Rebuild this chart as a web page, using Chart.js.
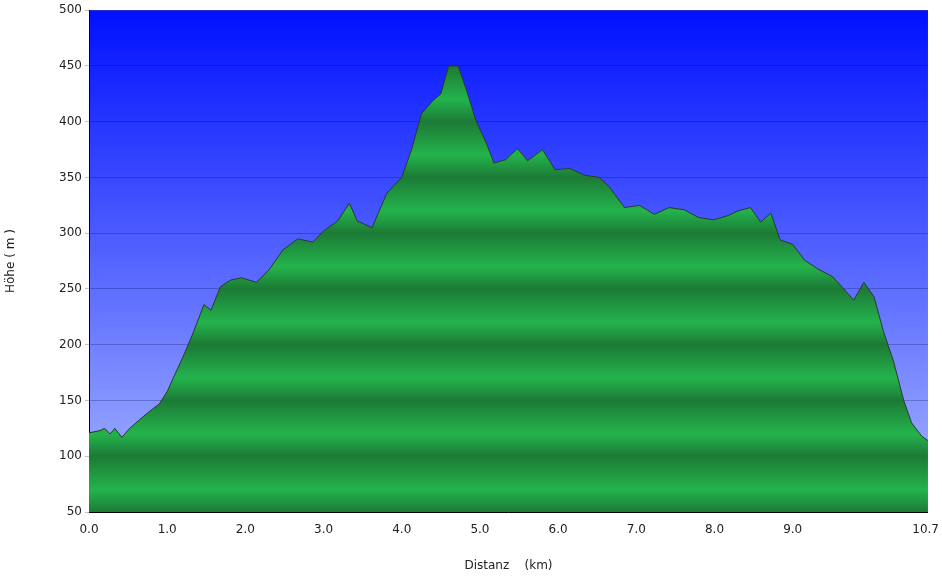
<!DOCTYPE html>
<html><head><meta charset="utf-8">
<script src="https://cdn.jsdelivr.net/npm/chart.js@4"></script>
<style>html,body{margin:0;background:#fff}#wrap{width:942px;height:577px}</style>
</head><body><div id="wrap"><canvas id="c"></canvas></div>
<script>
const distKm = [0,0.14,0.2,0.27,0.33,0.42,0.52,0.65,0.77,0.9,1.0,1.09,1.22,1.34,1.47,1.56,1.68,1.81,1.95,2.14,2.3,2.48,2.67,2.86,3.0,3.18,3.33,3.43,3.62,3.81,4.0,4.13,4.25,4.4,4.5,4.6,4.72,4.82,4.95,5.08,5.18,5.33,5.48,5.61,5.8,5.96,6.15,6.34,6.53,6.66,6.85,7.04,7.23,7.42,7.61,7.8,7.99,8.18,8.3,8.46,8.59,8.72,8.84,9.0,9.15,9.32,9.51,9.63,9.78,9.91,10.04,10.16,10.29,10.42,10.52,10.65,10.73];
const hoehe = [121,123,125,120,125,117,125,133,140,147,158,172,192,212,236,231,252,258,260,256,267,285,295,292,302,311,327,311,305,336,350,376,407,419,425,450,450,430,401,381,363,366,376,365,375,357,358,352,350,341,323,325,317,323,321,314,312,316,320,323,310,318,294,290,276,268,261,252,240,256,243,212,185,150,130,118,114];
const xTicks = [0,1,2,3,4,5,6,7,8,9,10.7];

const bgPlugin = {
  id:'bg',
  beforeDraw(chart){
    const {ctx, chartArea:a} = chart;
    const g = ctx.createLinearGradient(0,a.top,0,a.bottom);
    g.addColorStop(0,'#0010ff'); g.addColorStop(1,'#a9b9ff');
    ctx.save(); ctx.fillStyle = g; ctx.fillRect(a.left,a.top,a.right-a.left,a.bottom-a.top); ctx.restore();
  }
};

function greenFill(c){
  const {chart} = c; const a = chart.chartArea; if(!a) return '#22a044';
  const y = chart.scales.y;
  const g = chart.ctx.createLinearGradient(0,a.top,0,a.bottom);
  for(let v=500; v>=50; v-=50){
    const t = (y.getPixelForValue(v)-a.top)/(a.bottom-a.top);
    g.addColorStop(Math.min(1,Math.max(0,t)),'#1c7a36');
    const m = (y.getPixelForValue(v-30)-a.top)/(a.bottom-a.top);
    if(m<=1) g.addColorStop(m,'#24b34c');
  }
  return g;
}

new Chart(document.getElementById('c'),{
  type:'line',
  data:{ datasets:[{ data: distKm.map((d,i)=>({x:d,y:hoehe[i]})), borderColor:'#2a3a2a', borderWidth:1, backgroundColor:greenFill, fill:'start', pointRadius:0, tension:0 }] },
  plugins:[bgPlugin],
  options:{
    responsive:true, maintainAspectRatio:false, animation:false,
    layout:{ padding:{ top:6, right:3, left:0, bottom:0 } },
    plugins:{ legend:{display:false}, tooltip:{enabled:false} },
    scales:{
      x:{ type:'linear', min:0, max:10.73,
        afterBuildTicks(s){ s.ticks = xTicks.map(v=>({value:v})); },
        afterFit(s){ s.height = 65; },
        ticks:{ callback:v=>v.toFixed(1), color:'#222', font:{family:'DejaVu Sans',size:12}, maxRotation:0, autoSkip:false },
        grid:{ display:false, drawTicks:true }, border:{color:'#000'},
        title:{ display:true, text:'Distanz    (km)', color:'#222', font:{family:'DejaVu Sans',size:12}, padding:{top:12} } },
      y:{ min:50, max:500,
        afterFit(s){ s.width = 89; },
        ticks:{ stepSize:50, color:'#222', font:{family:'DejaVu Sans',size:12} },
        grid:{ color:'rgba(0,0,60,0.25)', tickLength:4 }, border:{color:'#000'},
        title:{ display:true, text:'Höhe ( m )', color:'#222', font:{family:'DejaVu Sans',size:12} } }
    }
  }
});
</script></body></html>
